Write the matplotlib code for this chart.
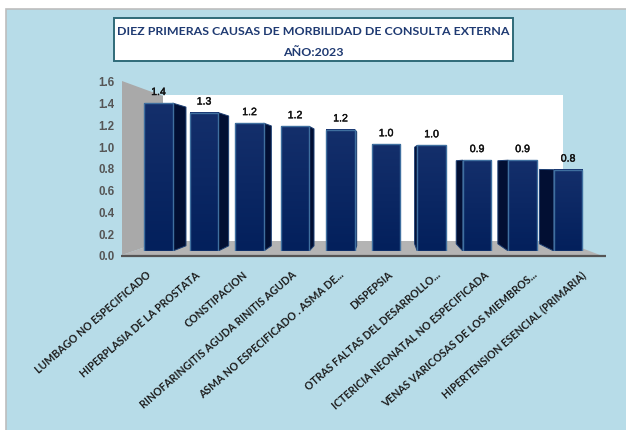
import numpy as np
import matplotlib
matplotlib.use("Agg")
import matplotlib.pyplot as plt
import matplotlib.patheffects as pe
from matplotlib.patches import Polygon, Rectangle
from matplotlib.colors import LinearSegmentedColormap

plt.rcParams['font.family'] = ['Lato', 'DejaVu Sans']

title_lines = ["DIEZ PRIMERAS CAUSAS DE MORBILIDAD DE CONSULTA EXTERNA", "AÑO:2023"]
categories = ["LUMBAGO NO ESPECIFICADO", "HIPERPLASIA DE LA PROSTATA", "CONSTIPACION",
              "RINOFARINGITIS AGUDA RINITIS AGUDA", "ASMA NO ESPECIFICADO . ASMA DE...",
              "DISPEPSIA", "OTRAS FALTAS DEL DESARROLLO...", "ICTERICIA NEONATAL NO ESPECIFICADA",
              "VENAS VARICOSAS DE LOS MIEMBROS...", "HIPERTENSION ESENCIAL (PRIMARIA)"]
values = [1.40, 1.31, 1.21, 1.18, 1.15, 1.01, 1.00, 0.86, 0.86, 0.77]
value_labels = ["1.4", "1.3", "1.2", "1.2", "1.2", "1.0", "1.0", "0.9", "0.9", "0.8"]
y_ticks = [0.0, 0.2, 0.4, 0.6, 0.8, 1.0, 1.2, 1.4, 1.6]

W, H = 626, 431
PANEL = "#b7dce8"
fig = plt.figure(figsize=(W / 100, H / 100), dpi=100, facecolor="white")


def px_axes(x0, x1, ytop, ybot, **kw):
    return fig.add_axes([x0 / W, 1 - ybot / H, (x1 - x0) / W, (ybot - ytop) / H], **kw)


# Backdrop, in pixel coordinates
bg = px_axes(0, W, 0, H)
bg.set_xlim(0, W); bg.set_ylim(H, 0); bg.axis("off")
bg.add_patch(Rectangle((6, 9.5), W, H, fc=PANEL, ec="#bdbdbd", lw=1.2))
bg.add_patch(Rectangle((163, 96), 400, 146, fc="white", ec="none"))
bg.add_patch(Polygon([(122, 82), (163, 97), (163, 242), (122, 256)], fc="#a9a9a9", ec="none"))
bg.add_patch(Polygon([(122, 256), (163, 242), (563, 242), (600, 256)], fc="#b4b4b4", ec="none"))
bg.plot([121, 606], [256.5, 256.5], color="#555555", lw=1.6, solid_capstyle="butt")
bg.add_patch(Rectangle((113.5, 19), 399.5, 43, fc="white", ec="#2f6a78", lw=1.4))
bg.text(313, 31.5, title_lines[0], ha="center", va="center", fontsize=8.9, fontweight="bold", color="#1f3a72")
bg.text(313, 52, title_lines[1], ha="center", va="center", fontsize=8.9, fontweight="bold", color="#1f3a72")

# Bars: value 0 at y=252 px, slot spacing 45.5 px
x_left, x_right = 122, 606
step = 45.5
first = 158.5
xlim = ((x_left - first) / step, (x_right - first) / step)
ax = px_axes(x_left, x_right, 83, 252, facecolor="none")
ax.set_xlim(*xlim); ax.set_ylim(0, 1.6); ax.axis("off")
grad = LinearSegmentedColormap.from_list("g", ["#03205c", "#142f6b"])
vp_x, vp_y, k_near, k_far = 386.0, 168.0, 0.062, 0.085
bw = 28.5 / step
idx = np.arange(len(values))
to_px = lambda xv, yv: (first + xv * step, 252 - yv * 169 / 1.6)
for i, v in zip(idx, values):
    left, right = i - bw / 2, i + bw / 2
    lpx = first + left * step
    rpx = first + right * step
    # visible side of each bar, receding to a vanishing point
    if rpx < vp_x - 2:
        e, k = right, k_near
    elif lpx > vp_x + 2:
        e, k = left, k_far
    else:
        e = None
    if e is not None:
        ex, _ = to_px(e, 0)
        s = []
        for yv in (0, v):
            _, ey = to_px(e, yv)
            nx = ex + (vp_x - ex) * k
            ny = ey + (vp_y - ey) * k
            s.append(((nx - first) / step, (252 - ny) * 1.6 / 169))
        ax.add_patch(Polygon([(e, 0), s[0], s[1], (e, v)], fc="#020f33", ec="#1d3f73", lw=0.7, zorder=2))
    ax.imshow(np.linspace(1, 0, 64)[:, None], aspect="auto", cmap=grad, extent=(left, right, 0, v),
              vmin=0, vmax=1, zorder=3)
bars = ax.bar(idx, values, width=bw, fc="none", ec="#3f6f9f", lw=1.0, zorder=4)
ax.set_xlim(*xlim); ax.set_ylim(0, 1.6)
for i, v, t in zip(idx, values, value_labels):
    ax.annotate(t, (i, v), xytext=(0, 8), textcoords="offset points", ha="center", va="center",
                fontsize=7.6, color="#111111", family="Liberation Sans", zorder=5,
                path_effects=[pe.withStroke(linewidth=0.3, foreground="#111111")])

# Value axis: runs along the front of the left wall
ay = px_axes(122, 123, 82, 256, facecolor="none")
ay.set_ylim(0, 1.6); ay.set_xticks([])
ay.set_yticks(y_ticks, [f"{t:.1f}" for t in y_ticks])
ay.tick_params(axis="y", length=0, pad=5.5, labelsize=8.3, labelcolor="#555555")
for l in ay.get_yticklabels():
    l.set_fontweight("bold")
    l.set_family("Liberation Sans")
for sp in ay.spines.values():
    sp.set_visible(False)

# Category labels: their own evenly spaced axis, as in the reference
lab_step = 48.3
ax2 = px_axes(146, 146 + 9 * lab_step, 262, 268, facecolor="none")
ax2.set_xlim(0, 9); ax2.set_yticks([])
ax2.set_xticks(idx, categories, rotation=41, ha="right", rotation_mode="anchor",
               fontsize=7.6, fontweight="bold", color="#1c1c1c")
ax2.tick_params(axis="x", length=0, pad=1)
for sp in ax2.spines.values():
    sp.set_visible(False)

fig.savefig("out.png", dpi=100, facecolor="white")
